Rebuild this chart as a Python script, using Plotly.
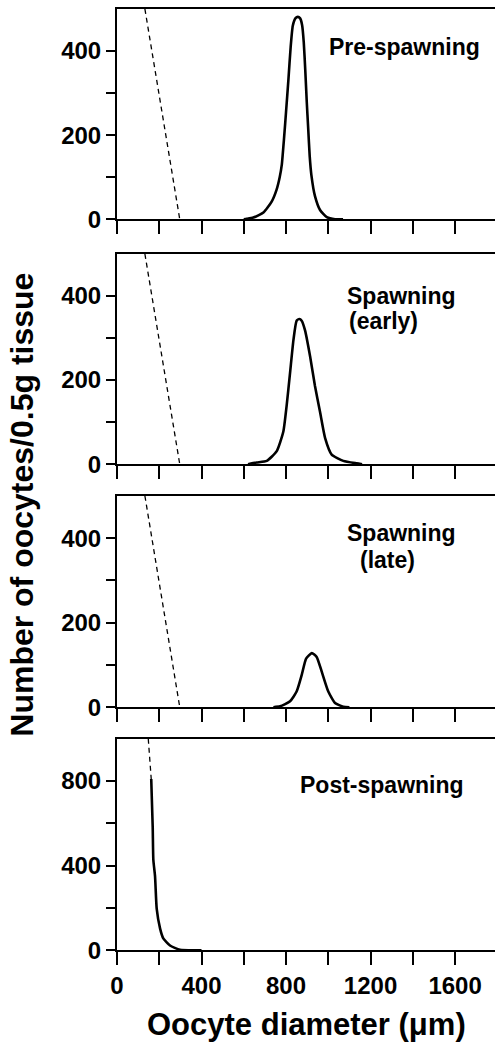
import plotly.graph_objects as go

# ---------------- data ----------------
diam_pre = [600, 614, 645, 693, 732, 755, 770, 780, 791, 800, 811, 822, 832, 845, 856, 866, 876, 884, 891, 898, 905, 912, 920, 937, 961, 993, 1032, 1070]
count_pre = [0, 1, 4, 16, 42, 70, 100, 130, 195, 255, 330, 410, 460, 478, 481, 478, 462, 420, 355, 280, 215, 150, 105, 55, 22, 5, 0, 0]

diam_early = [620, 661, 709, 756, 787, 803, 819, 835, 850, 863, 874, 890, 914, 937, 961, 985, 1016, 1071, 1134, 1160]
count_early = [0, 4, 8, 31, 77, 140, 217, 295, 341, 345, 341, 318, 256, 186, 124, 62, 23, 8, 2, 0]

diam_late = [740, 772, 819, 850, 874, 895, 922, 945, 969, 1000, 1032, 1071, 1100]
count_late = [0, 2, 14, 37, 76, 115, 128, 119, 84, 37, 10, 1, 0]

diam_post = [162, 169, 172, 180, 188, 204, 219, 251, 298, 400]
count_post = [810, 583, 428, 350, 195, 102, 56, 22, 2, 0]

# dashed reference lines (small oocyte pool)
dash_diam = [132, 297]
dash_count = [500, 0]
dash_diam_post = [148, 162]
dash_count_post = [1000, 810]

panel_labels = ["Pre-spawning", "Spawning", "(early)", "Spawning", "(late)", "Post-spawning"]

x_ticks = [0, 200, 400, 600, 800, 1000, 1200, 1400, 1600]
x_ticktext = ["0", "", "400", "", "800", "", "1200", "", "1600"]
y_ticks_small = [0, 100, 200, 300, 400]
y_ticktext_small = ["0", "", "200", "", "400"]
y_ticks_big = [0, 200, 400, 600, 800]
y_ticktext_big = ["0", "", "400", "", "800"]

# ---------------- layout helpers ----------------
W, H = 495, 1058
L = 117
FONT = "Liberation Sans, Arial, Helvetica, sans-serif"

def px_x(px):
    return (px - L) / (W - L)

def px_y(py):
    return 1 - py / H

# panel pixel extents (top, bottom)
panels = [(9, 222), (257, 470), (502, 716), (748, 962)]

fig = go.Figure()

series = [
    (diam_pre, count_pre, dash_diam, dash_count),
    (diam_early, count_early, dash_diam, dash_count),
    (diam_late, count_late, dash_diam, dash_count),
    (diam_post, count_post, dash_diam_post, dash_count_post),
]

for i, (dx, dy, ddx, ddy) in enumerate(series):
    sfx = "" if i == 0 else str(i + 1)
    fig.add_trace(go.Scatter(x=ddx, y=ddy, mode="lines",
                             line=dict(color="black", width=1.3, dash="5px,4px"),
                             xaxis="x" + sfx, yaxis="y" + sfx, showlegend=False))
    fig.add_trace(go.Scatter(x=dx, y=dy, mode="lines",
                             line=dict(color="black", width=2.6, shape="spline", smoothing=0.5),
                             xaxis="x" + sfx, yaxis="y" + sfx, showlegend=False))

layout = dict(
    width=W, height=H,
    margin=dict(l=L, r=0, t=0, b=0),
    plot_bgcolor="white", paper_bgcolor="white",
    showlegend=False,
)

for i, (top, bot) in enumerate(panels):
    sfx = "" if i == 0 else str(i + 1)
    last = i == 3
    layout["xaxis" + sfx] = dict(
        domain=[0, 1], range=[0, 1789], anchor="y" + sfx,
        showline=True, linecolor="black", linewidth=2, mirror=True,
        ticks="outside", ticklen=13, tickwidth=2, tickcolor="black",
        tickvals=x_ticks, ticktext=x_ticktext,
        showticklabels=last, showgrid=False, zeroline=False,
        tickfont=dict(family=FONT, size=24, color="black", weight="bold"),
        matches=None if i == 0 else "x",
    )
    layout["yaxis" + sfx] = dict(
        domain=[px_y(bot), px_y(top)],
        range=[0, 1000] if last else [0, 500], anchor="x" + sfx,
        showline=True, linecolor="black", linewidth=2, mirror=False,
        ticks="outside", ticklen=9, tickwidth=2, tickcolor="black",
        tickvals=y_ticks_big if last else y_ticks_small,
        ticktext=y_ticktext_big if last else y_ticktext_small,
        showgrid=False, zeroline=False,
        tickfont=dict(family=FONT, size=24, color="black", weight="bold"),
    )

fig.update_layout(**layout)

ann_pos = [(404, 48), (401, 300), (383, 325), (401, 540), (387, 567), (382, 795)]
for txt, (ax, ay) in zip(panel_labels, ann_pos):
    fig.add_annotation(text=txt, xref="paper", yref="paper",
                       x=px_x(ax), y=px_y(ay), showarrow=False,
                       xanchor="center", yanchor="middle",
                       font=dict(family=FONT, size=23, color="black", weight="bold"))

fig.add_annotation(text="Oocyte diameter (\u03bcm)", xref="paper", yref="paper",
                   x=px_x(306), y=px_y(1037), showarrow=False,
                   xanchor="center", yanchor="middle",
                   font=dict(family=FONT, size=31, color="black", weight="bold"))
fig.add_annotation(text="Number of oocytes/0.5g tissue", xref="paper", yref="paper",
                   x=px_x(22), y=px_y(511), showarrow=False, textangle=-90,
                   xanchor="center", yanchor="middle",
                   font=dict(family=FONT, size=32, color="black", weight="bold"))

fig.write_html("out.html", config={"displayModeBar": False},
               post_script="document.body.style.margin='0';document.body.style.overflow='hidden';")
